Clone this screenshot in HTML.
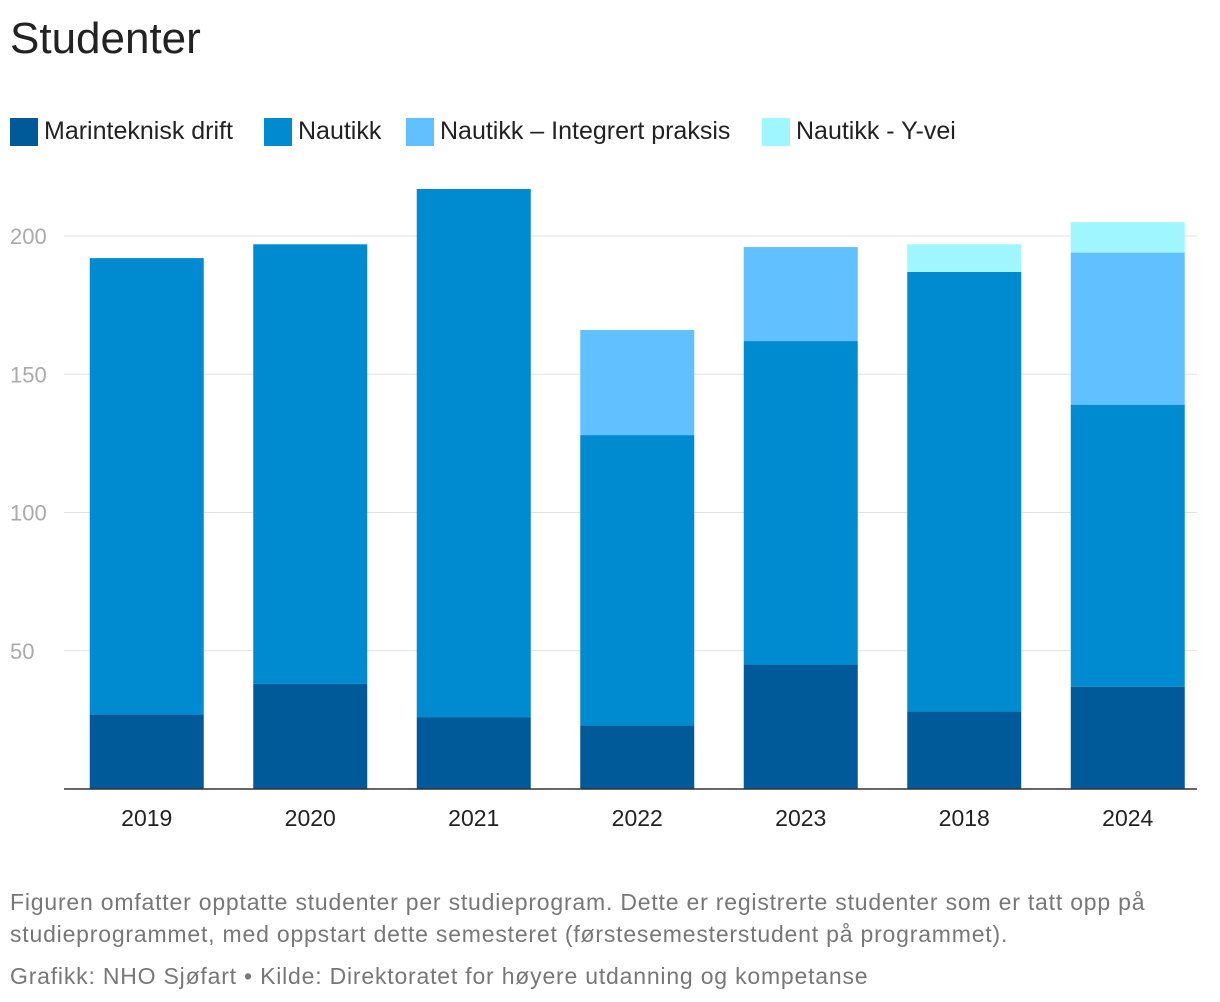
<!DOCTYPE html>
<html><head><meta charset="utf-8"><style>
body{margin:0;background:#fff;font-family:"Liberation Sans",sans-serif;}
#wrap{position:relative;width:1220px;height:1002px;overflow:hidden}
h1{position:absolute;left:10px;top:14px;margin:0;font-weight:normal;font-size:44px;color:#222}
.leg{position:absolute;top:117px;display:flex;align-items:center;font-size:25px;color:#222}
.sw{width:28px;height:28px;margin-right:6px}
.note{position:absolute;left:10px;font-size:23px;letter-spacing:0.8px;color:#777;line-height:32px;white-space:nowrap}
</style></head><body><div id="wrap">
<h1>Studenter</h1>
<div class="leg" style="left:10px"><div class="sw" style="background:#005a9a"></div>Marinteknisk drift</div>
<div class="leg" style="left:264px"><div class="sw" style="background:#008bd0"></div>Nautikk</div>
<div class="leg" style="left:406px"><div class="sw" style="background:#61c0ff"></div>Nautikk – Integrert praksis</div>
<div class="leg" style="left:762px"><div class="sw" style="background:#a0f6ff"></div>Nautikk - Y-vei</div>
<svg id="svg" width="1220" height="1002" style="position:absolute;left:0;top:0"></svg>
<div class="note" style="top:886px">Figuren omfatter opptatte studenter per studieprogram. Dette er registrerte studenter som er tatt opp på<br>studieprogrammet, med oppstart dette semesteret (førstesemesterstudent på programmet).</div>
<div class="note" style="top:960px">Grafikk: NHO Sjøfart • Kilde: Direktoratet for høyere utdanning og kompetanse</div>
</div>
<script>
const categories=["2019","2020","2021","2022","2023","2018","2024"];
const marinteknisk=[27,38,26,23,45,28,37];
const nautikk=[165,159,191,105,117,159,102];
const integrert=[0,0,0,38,34,0,55];
const yvei=[0,0,0,0,0,10,11];
const yTicks=[50,100,150,200];
const series=[marinteknisk,nautikk,integrert,yvei];
const colors=["#005a9a","#008bd0","#61c0ff","#a0f6ff"];
const names=["marinteknisk","nautikk","integrert","yvei"];
const svg=document.getElementById('svg');const NS="http://www.w3.org/2000/svg";
const y=v=>789-v*2.765, band=163.5, x0=65, bw=114;
const cx=i=>x0+band*(i+0.5);
function mk(t,a){const e=document.createElementNS(NS,t);for(const k in a)e.setAttribute(k,a[k]);svg.appendChild(e);return e;}
yTicks.forEach(t=>{
 const l=mk('line',{x1:64,x2:1197,y1:y(t),y2:y(t),stroke:'#e2e2e2','stroke-width':1});
 
 
 const tx=mk('text',{x:10,y:y(t)+8,'font-size':22,fill:'#aaa'});tx.textContent=t;
 
 
});
categories.forEach((c,i)=>{
 let acc=0;
 series.forEach((s,j)=>{
  if(s[i]>0){const r=mk('rect',{x:cx(i)-bw/2,y:y(acc+s[i]),width:bw,height:s[i]*2.765,fill:colors[j]});
  
  }
  acc+=s[i];
 });
 const t=mk('text',{x:cx(i),y:826,'font-size':23,fill:'#222','text-anchor':'middle'});t.textContent=c;
 
 
});
const ax=mk('line',{x1:64,x2:1197,y1:789,y2:789,stroke:'#333','stroke-width':1.5});


</script></body></html>
